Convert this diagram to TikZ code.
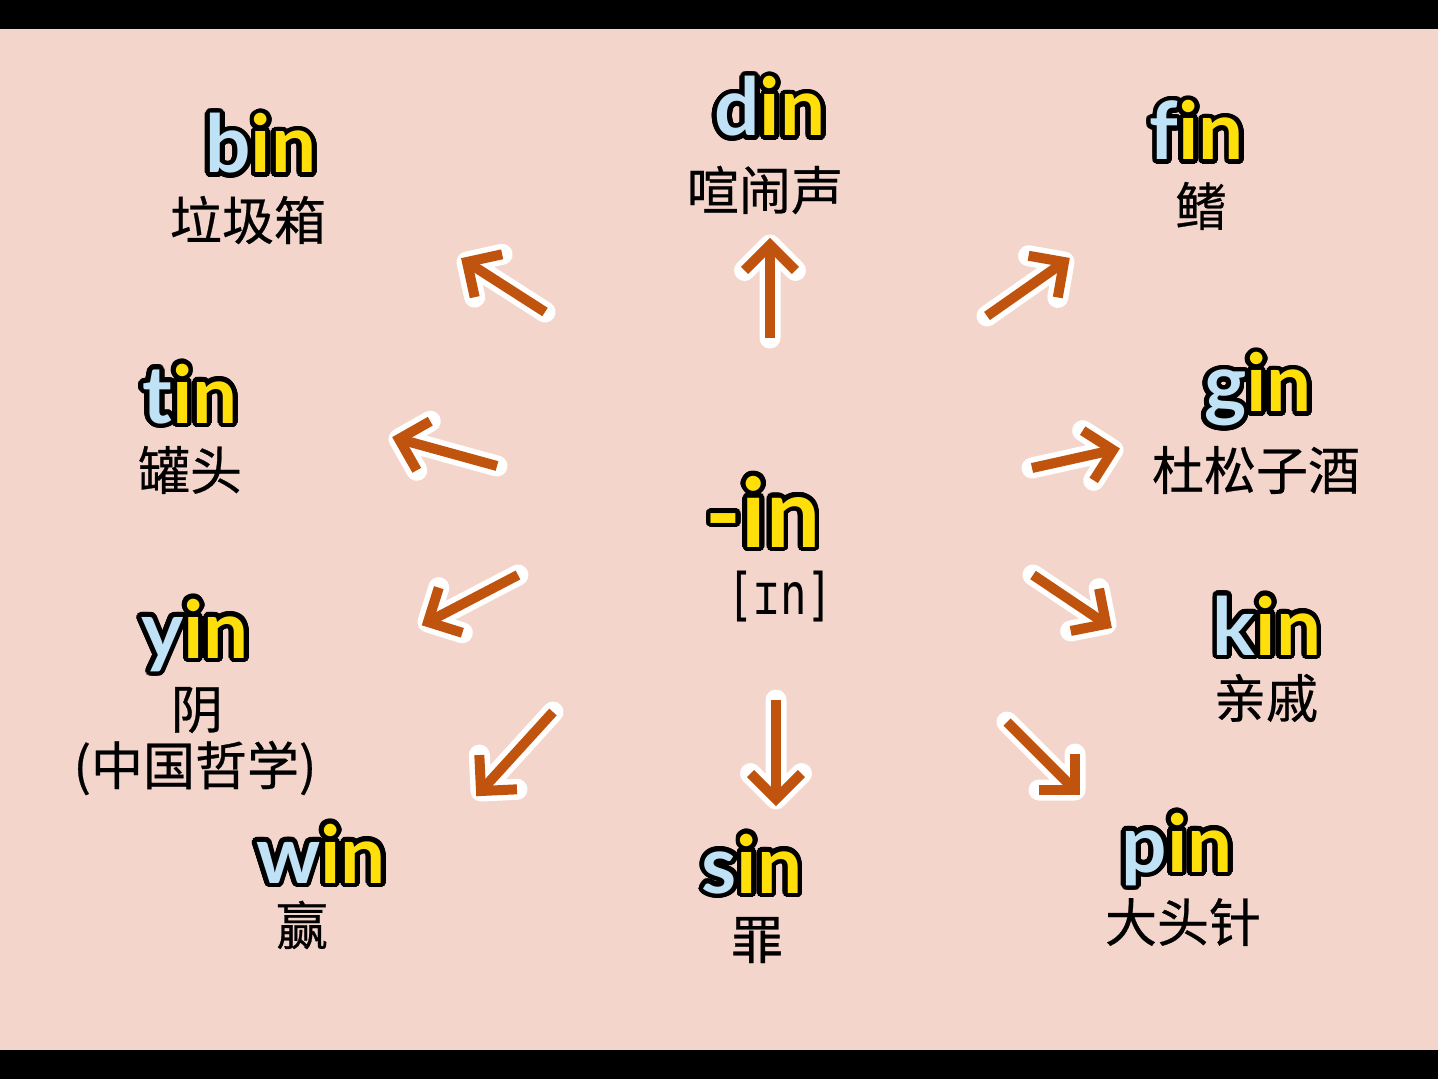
\documentclass[tikz,border=0pt]{standalone}
\usepackage{fontspec}
\usepackage{graphicx}
\usepackage[copies]{contour}
\usetikzlibrary{calc}
\setmainfont{Lato}
\newfontfamily\cjk[FakeBold=0.5]{Noto Sans CJK SC}
\newfontfamily\ipa{DejaVu Sans Mono}
\definecolor{paper}{HTML}{F3D5CB}
\definecolor{initblue}{HTML}{BFE2F6}
\definecolor{rimeyellow}{HTML}{FFDF0A}
\definecolor{arrowbrown}{HTML}{C0530E}
\contourlength{2.4pt}
\contournumber{32}
% pinyin word: blue initial, yellow rime, black rim
\newcommand{\py}[2]{{\color{initblue}\contour{black}{#1}}{\color{rimeyellow}\contour{black}{#2}}}

\begin{document}
\begin{tikzpicture}[x=0.5pt,y=-0.5pt,
    word/.style={anchor=base,inner sep=0pt,font=\fontsize{40}{44}\selectfont\bfseries},
    zh/.style={inner sep=0pt,font=\cjk\fontsize{26}{30}\selectfont},
    halo/.style={white,line width=10.5pt,line cap=round,line join=round},
    shaft/.style={arrowbrown,line width=5pt,line join=miter}]

      \useasboundingbox (0,0) rectangle (1438,1079);
      \fill[black] (0,0) rectangle (1438,1079);
      \fill[paper] (0,29) rectangle (1438,1050);

	\node[word,font=\fontsize{48}{52}\selectfont\bfseries] (rime) at (763,547) {\py{}{-in}};
	\node[inner sep=0pt,font=\ipa\fontsize{22}{24}\selectfont] (ipa) at (780,597) {\scalebox{1}[1.3]{[ɪn]}};

	\node[word] (bin) at (261,173) {\py{b}{in}};
	\node[word] (din) at (770,136) {\py{d}{in}};
	\node[word] (fin) at (1197,160) {\py{f}{in}};
	\node[word] (tin) at (190,423) {\py{t}{in}};
	\node[word] (gin) at (1258,412) {\py{g}{in}};
	\node[word] (yin) at (195,658) {\py{y}{in}};
	\node[word] (kin) at (1267,655) {\py{k}{in}};
	\node[word] (win) at (321,883) {\py{w}{in}};
	\node[word] (sin) at (752,893) {\py{s}{in}};
	\node[word] (pin) at (1177,872) {\py{p}{in}};

	\node[zh] (binzh) at (248,220) {垃圾箱};
	\node[zh] (dinzh) at (765,190) {喧闹声};
	\node[zh] (finzh) at (1201,206) {鳍};
	\node[zh] (tinzh) at (190,470) {罐头};
	\node[zh] (ginzh) at (1256,470) {杜松子酒};
	\node[zh] (yinzh) at (197,710) {阴};
	\node[zh] (yinnote) at (195,768) {(中国哲学)};
	\node[zh] (kinzh) at (1266,698) {亲戚};
	\node[zh] (winzh) at (302,925) {赢};
	\node[zh] (sinzh) at (757,940) {罪};
	\node[zh] (pinzh) at (1183,922) {大头针};

	\foreach \n/\tx/\ty/\hx/\hy in {1/545/312/467/262, 2/770/338/770/245, 3/987/316/1064/262,
	    4/497/466/399/439, 5/1032/468/1113/450, 6/518/575/428/622, 7/1033/575/1106/624,
	    8/553/712/481/791, 9/776/700/776/799, 10/1007/722/1075/790}{
	   \coordinate (t\n) at (\tx,\ty);
	   \coordinate (h\n) at (\hx,\hy);
	   \draw[halo] (t\n) -- (h\n) ($(h\n)!18pt!45:(t\n)$) -- (h\n) -- ($(h\n)!18pt!-45:(t\n)$);
	   \draw[shaft] (t\n) -- (h\n);
	   \draw[shaft] ($(h\n)!18pt!45:(t\n)$) -- (h\n) -- ($(h\n)!18pt!-45:(t\n)$);
	}
\end{tikzpicture}
\end{document}
